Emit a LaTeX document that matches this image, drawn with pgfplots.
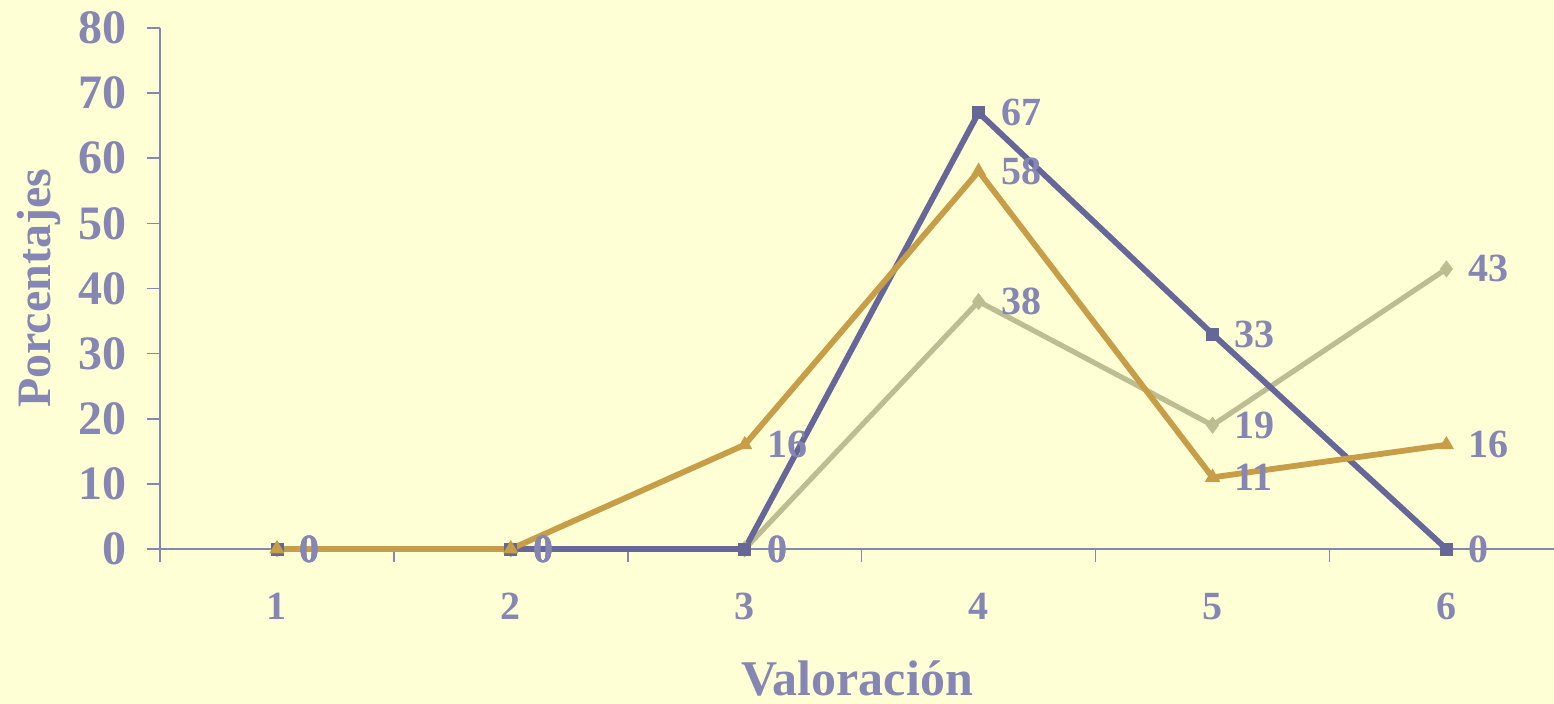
\documentclass[border=0pt]{standalone}
\usepackage{pgfplots}
\pgfplotsset{compat=1.18}
\usepackage{fontspec}
\setmainfont{Liberation Serif}
\usetikzlibrary{backgrounds}
\definecolor{bgcol}{HTML}{FFFFD6}
\definecolor{txtcol}{HTML}{8686B4}
\definecolor{serblue}{HTML}{666699}
\definecolor{sergold}{HTML}{C79D48}
\definecolor{sergreen}{HTML}{BCBE92}

\begin{document}
\begin{tikzpicture}
\begin{axis}[
  scale only axis,
  width=697pt, height=260.5pt,
  xmin=0.5, xmax=6.46,
  ymin=0, ymax=80,
  clip=false,
  axis x line*=bottom, axis y line*=left,
  axis line style={draw=txtcol, line width=0.8pt},
  xtick={1,2,3,4,5,6},
  minor xtick={0.5,1.5,2.5,3.5,4.5,5.5},
  ytick={0,10,...,80},
  tick align=outside,
  major tick length=6.5pt, minor tick length=6.5pt,
  tick style={draw=txtcol, line width=0.8pt},
  major x tick style={draw=none},
  /pgf/number format/assume math mode=true,
  xticklabel style={font=\fontsize{20}{24}\selectfont\bfseries, text=txtcol,
    anchor=base, inner sep=0pt, yshift=-29pt},
  yticklabel style={font=\fontsize{24}{28}\selectfont\bfseries, text=txtcol,
    anchor=east, inner sep=0pt, xshift=-10pt},
  xlabel={Valoración},
  ylabel={Porcentajes},
  xlabel style={at={(axis description cs:0.5,0)}, anchor=base, yshift=-73.5pt,
    inner sep=0pt, font=\fontsize{25}{30}\selectfont\bfseries, text=txtcol},
  ylabel style={at={(axis description cs:-0.0789,0.5)}, anchor=base,
    inner sep=0pt, font=\fontsize{24}{29}\selectfont\bfseries, text=txtcol},
  nodes near coords,
  nodes near coords align=horizontal,
  every node near coord/.append style={anchor=west, xshift=11pt, inner sep=0pt,
    font=\fontsize{20}{24}\selectfont\bfseries, text=txtcol},
]
% Serie 3
\addplot[color=sergreen, line width=2.6pt, mark=diamond*, mark size=4pt,
  mark options={line width=0.4pt}]
  coordinates {(1,0) (2,0) (3,0) (4,38) (5,19) (6,43)};
% Serie 1
\addplot[color=serblue, line width=2.9pt, mark=square*, mark size=3pt,
  mark options={line width=0.4pt}]
  coordinates {(1,0) (2,0) (3,0) (4,67) (5,33) (6,0)};
% Serie 2
\addplot[color=sergold, line width=2.9pt, mark=triangle*, mark size=4pt,
  mark options={line width=0.4pt}]
  coordinates {(1,0) (2,0) (3,16) (4,58) (5,11) (6,16)};
\end{axis}
\pgfresetboundingbox
\path ([shift={(-80pt,-77.5pt)}]current axis.south west) rectangle ([shift={(0pt,14pt)}]current axis.north east);
\begin{scope}[on background layer]
\fill[bgcol] ([shift={(-80pt,-77.5pt)}]current axis.south west) rectangle ([shift={(0pt,14pt)}]current axis.north east);
\end{scope}
\end{tikzpicture}
\end{document}
